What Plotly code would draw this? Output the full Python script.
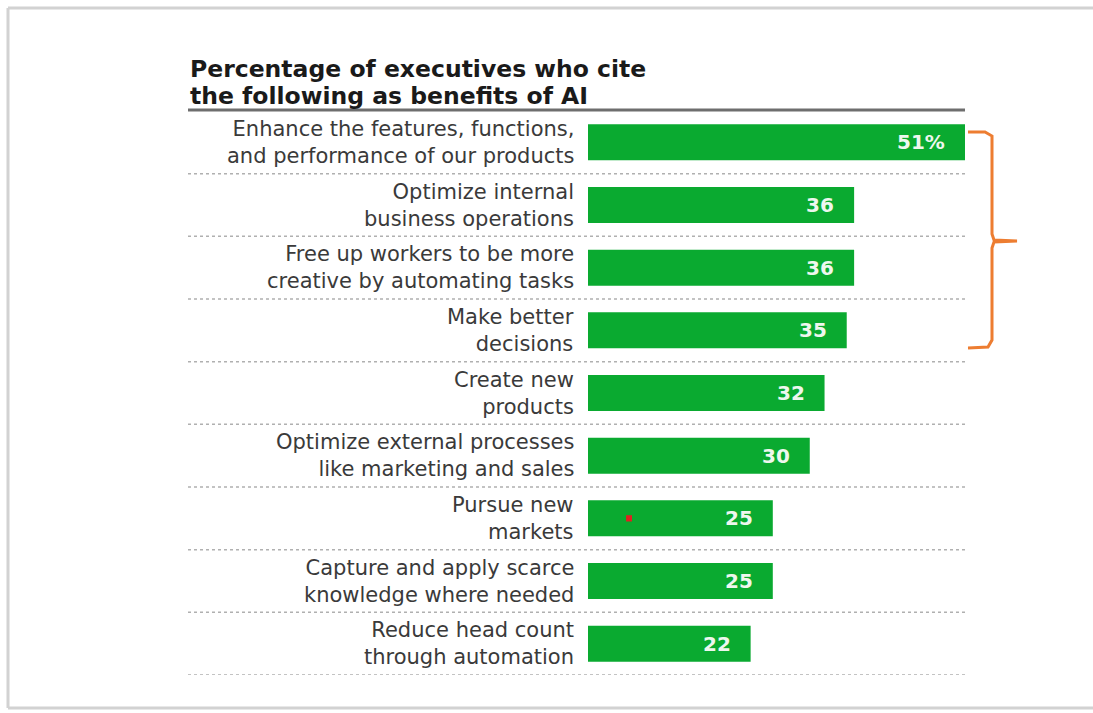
import plotly.graph_objects as go

categories = [
    "Enhance the features, functions,<br>and performance of our products",
    "Optimize internal<br>business operations",
    "Free up workers to be more<br>creative by automating tasks",
    "Make better<br>decisions",
    "Create new<br>products",
    "Optimize external processes<br>like marketing and sales",
    "Pursue new<br>markets",
    "Capture and apply scarce<br>knowledge where needed",
    "Reduce head count<br>through automation",
]
values = [51, 36, 36, 35, 32, 30, 25, 25, 22]
value_labels = ["51%", "36", "36", "35", "32", "30", "25", "25", "22"]
title_text = "Percentage of executives who cite<br>the following as benefits of AI"

W, H = 1093, 713
ML, MR, MT, MB = 588, 128, 111, 38
PW, PH = W - ML - MR, H - MT - MB


def px(x):
    return (x - ML) / PW


def py(y):
    return (H - MB - y) / PH


GREEN = "#0aaa30"
FONT = "DejaVu Sans"

fig = go.Figure(go.Bar(
    x=values, y=list(range(len(categories))), orientation="h",
    marker=dict(color=GREEN, line=dict(width=0)),
    width=0.575, hoverinfo="skip",
))

shapes = []
annotations = []

# title underline
shapes.append(dict(type="line", xref="paper", yref="paper",
                   x0=px(188), x1=1.0, y0=py(110), y1=py(110),
                   line=dict(color="#6e6e6e", width=3)))
# dotted separators
for i in range(len(categories)):
    shapes.append(dict(type="line", xref="paper", yref="y",
                       x0=px(188), x1=1.0, y0=i + 0.5, y1=i + 0.5,
                       line=dict(color="#b0b0b0", width=1.5, dash="dot")))

for i, (cat, v, lab) in enumerate(zip(categories, values, value_labels)):
    annotations.append(dict(
        x=0, y=i, xref="x", yref="y", text=cat, showarrow=False,
        xanchor="right", yanchor="middle", xshift=-12, align="right",
        font=dict(family=FONT, size=21, color="#3a3a3a")))
    annotations.append(dict(
        x=v, y=i, xref="x", yref="y", text="<b>%s</b>" % lab, showarrow=False,
        xanchor="right", yanchor="middle", xshift=-18,
        font=dict(family=FONT, size=20, color="#eef7ee")))

for k, ln in enumerate(title_text.split("<br>")):
    annotations.append(dict(
        x=px(188), y=py(69 + 27 * k), xref="paper", yref="paper",
        text="<b>%s</b>" % ln, showarrow=False, xanchor="left",
        yanchor="middle", align="left",
        font=dict(family=FONT, size=23.5, color="#1a1a1a")))

# orange bracket
pts = [(968, 132), (985, 132), (992, 136), (992, 144), (992, 234), (994, 240),
       (1017, 241), (994, 242), (992, 248), (992, 340), (988, 347), (968, 348)]
path = "M " + " L ".join("%f,%f" % (px(a), py(b)) for a, b in pts)
shapes.append(dict(type="path", xref="paper", yref="paper", path=path,
                   line=dict(color="#ed7d31", width=3)))

# red speck inside one bar
shapes.append(dict(type="rect", xref="x", yref="y", x0=5.15, x1=5.95,
                   y0=6 - 0.05, y1=6 + 0.05, fillcolor="#e02020",
                   line=dict(width=0)))

# frame
for (x0, y0, x1, y1) in [(8, 8, 8, 708), (8, 8, W, 8), (8, 708, W, 708)]:
    shapes.append(dict(type="line", xref="paper", yref="paper",
                       x0=px(x0), x1=px(x1), y0=py(y0), y1=py(y1),
                       line=dict(color="#d2d2d2", width=3)))

fig.update_layout(
    width=W, height=H,
    margin=dict(l=ML, r=MR, t=MT, b=MB),
    paper_bgcolor="white", plot_bgcolor="white",
    showlegend=False,
    xaxis=dict(range=[0, 51], visible=False, fixedrange=True),
    yaxis=dict(range=[len(categories) - 0.5, -0.5], visible=False, fixedrange=True),
    shapes=shapes, annotations=annotations,
)

fig.write_html("out.html", config={"displayModeBar": False})
